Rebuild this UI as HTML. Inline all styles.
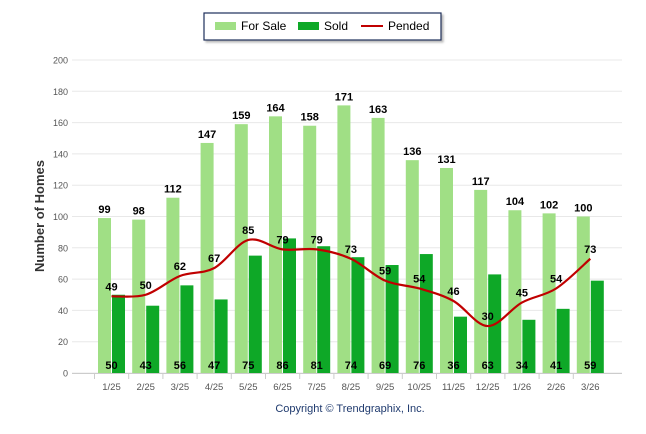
<!DOCTYPE html>
<html><head><meta charset="utf-8"><style>
body{margin:0;background:#fff;font-family:"Liberation Sans",Arial,sans-serif;}
svg{display:block}
</style></head><body>
<svg width="646" height="434">
<defs><filter id="sh" x="-10%" y="-20%" width="130%" height="160%"><feDropShadow dx="2" dy="2" stdDeviation="1" flood-color="#888" flood-opacity="0.6"/></filter></defs>
<g id="grid"></g>
<g id="bars"></g>
<path id="pend" fill="none" stroke="#c00000" stroke-width="2.2"></path>
<g id="labels"></g>
<text x="44" y="216" transform="rotate(-90 44 216)" text-anchor="middle" font-size="13" font-weight="bold" fill="#333">Number of Homes</text>
<text x="350" y="412" text-anchor="middle" font-size="11" fill="#1f3a6e">Copyright © Trendgraphix, Inc.</text>
<g>
<rect x="204" y="13" width="237" height="27" fill="#fff" stroke="#1f2f5a" stroke-width="1.2" filter="url(#sh)"/>
<rect x="215" y="22" width="21" height="8" fill="#a0df85"/>
<text x="241" y="30" font-size="12" fill="#000">For Sale</text>
<rect x="298" y="22" width="21" height="8" fill="#0ea827"/>
<text x="324" y="30" font-size="12" fill="#000">Sold</text>
<rect x="361" y="25" width="22" height="2" fill="#c00000"/>
<text x="388" y="30" font-size="12" fill="#000">Pended</text>
</g>
</svg>
<script>
const categories=["1/25","2/25","3/25","4/25","5/25","6/25","7/25","8/25","9/25","10/25","11/25","12/25","1/26","2/26","3/26"];
const forSale=[99,98,112,147,159,164,158,171,163,136,131,117,104,102,100];
const sold=[50,43,56,47,75,86,81,74,69,76,36,63,34,41,59];
const pended=[49,50,62,67,85,79,79,73,59,54,46,30,45,54,73];
const yTicks=[0,20,40,60,80,100,120,140,160,180,200];
const NS="http://www.w3.org/2000/svg";
const y=v=>373-v*1.565;
const cx=i=>111.5+i*34.2;
function mk(tag,attrs,parent,txt){const e=document.createElementNS(NS,tag);for(const k in attrs)e.setAttribute(k,attrs[k]);if(txt!==undefined)e.textContent=txt;document.getElementById(parent).appendChild(e);return e;}
yTicks.forEach(t=>{
 const l=mk('line',{x1:72,x2:622,y1:y(t),y2:y(t),stroke:'#e8e8e8','stroke-width':1},'grid');
 
 
 const tx=mk('text',{x:68,y:y(t)+3.5,'text-anchor':'end','font-size':9,fill:'#555'},'grid',t);
 
 
});
mk('line',{x1:72,x2:622,y1:373.5,y2:373.5,stroke:'#ccc'},'grid');
categories.forEach((c,i)=>{
 const tk=mk('line',{x1:cx(i)-17,x2:cx(i)-17,y1:374,y2:379,stroke:'#ccc'},'grid');
 const xl=mk('text',{x:cx(i),y:390,'text-anchor':'middle','font-size':9.5,fill:'#555'},'grid',c);
 
 
 const b1=mk('rect',{x:cx(i)-13.5,y:y(forSale[i]),width:13,height:373-y(forSale[i]),fill:'#a0df85'},'bars');
 
 
 const b2=mk('rect',{x:cx(i)+0.5,y:y(sold[i]),width:13,height:373-y(sold[i]),fill:'#0ea827'},'bars');
 
 
 const l1=mk('text',{x:cx(i)-7,y:y(forSale[i])-5,'text-anchor':'middle','font-size':11,'font-weight':'bold',fill:'#000'},'labels',forSale[i]);
 
 
 const l2=mk('text',{x:cx(i),y:369,'text-anchor':'middle','font-size':11,'font-weight':'bold',fill:'#000'},'labels',sold[i]);
 
 
 const l3=mk('text',{x:cx(i),y:y(pended[i])-6,'text-anchor':'middle','font-size':11,'font-weight':'bold',fill:'#000'},'labels',pended[i]);
 
 
});
const pts=pended.map((v,i)=>[cx(i),y(v)]);
let d=`M${pts[0][0]},${pts[0][1]}`;
for(let i=0;i<pts.length-1;i++){
 const p0=pts[i-1]||pts[i],p1=pts[i],p2=pts[i+1],p3=pts[i+2]||p2,t=6;
 d+=` C${p1[0]+(p2[0]-p0[0])/t},${p1[1]+(p2[1]-p0[1])/t} ${p2[0]-(p3[0]-p1[0])/t},${p2[1]-(p3[1]-p1[1])/t} ${p2[0]},${p2[1]}`;
}
document.getElementById('pend').setAttribute('d',d);
</script>
</body></html>
